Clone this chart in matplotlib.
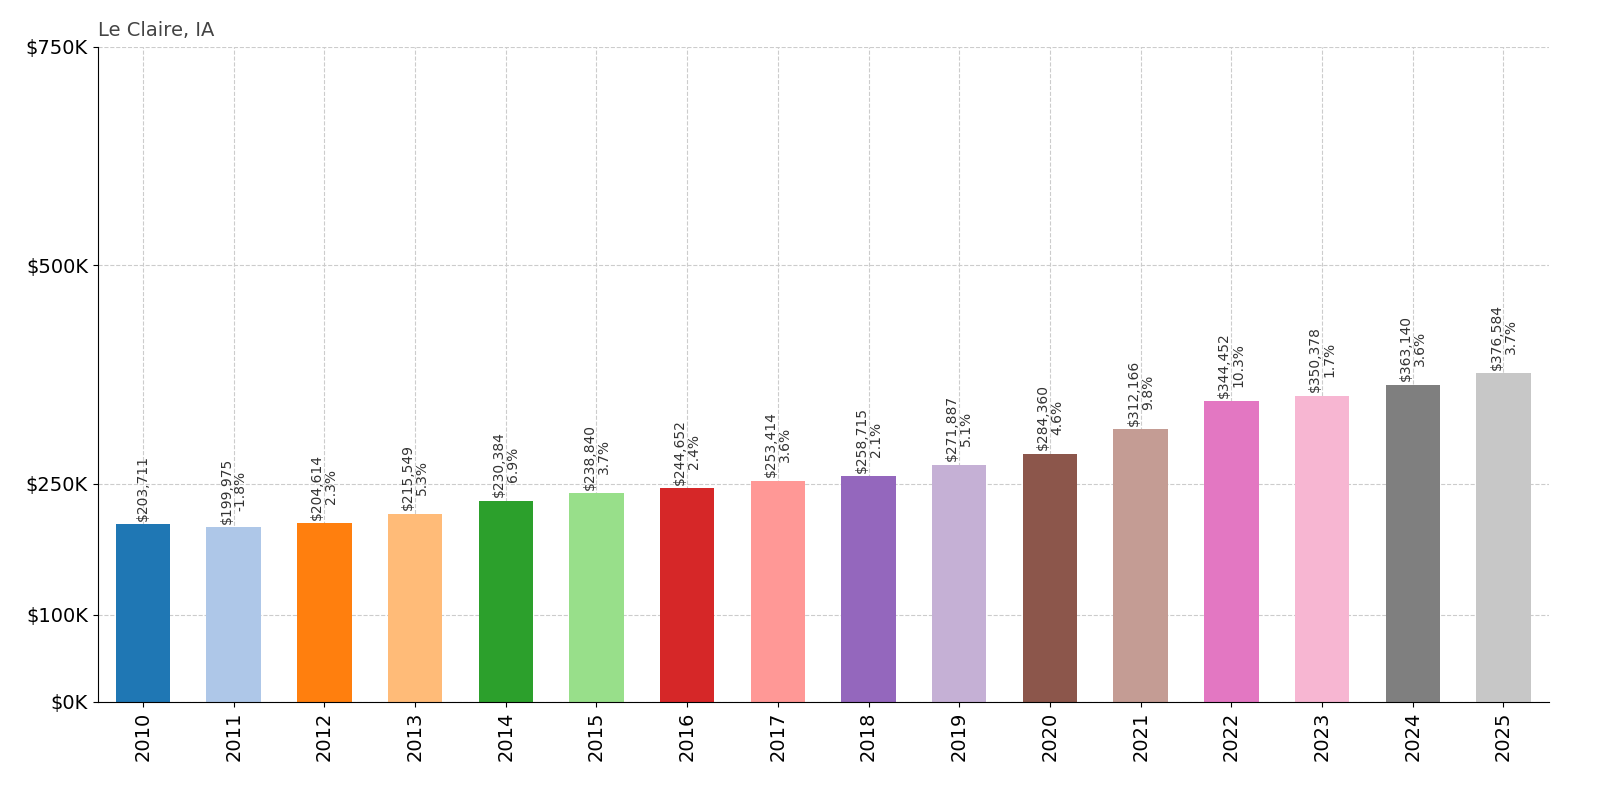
import matplotlib
matplotlib.use("Agg")
import matplotlib.pyplot as plt

years = ["2010","2011","2012","2013","2014","2015","2016","2017","2018","2019","2020","2021","2022","2023","2024","2025"]
values = [203711,199975,204614,215549,230384,238840,244652,253414,258715,271887,284360,312166,344452,350378,363140,376584]
changes = [None,"-1.8%","2.3%","5.3%","6.9%","3.7%","2.4%","3.6%","2.1%","5.1%","4.6%","9.8%","10.3%","1.7%","3.6%","3.7%"]
yticks = [0,100000,250000,500000,750000]
ytick_labels = ["$0K","$100K","$250K","$500K","$750K"]

colors = plt.get_cmap("tab20").colors

fig = plt.figure(figsize=(16,8), dpi=100)
ax = fig.add_axes([0.061, 0.1225, 0.907, 0.8188])
x = range(len(years))
ax.bar(x, values, width=0.6, color=[colors[i % 20] for i in x], zorder=2)
for i, v in enumerate(values):
    txt = f"${v:,}" if changes[i] is None else f"${v:,}\n{changes[i]}"
    ax.text(i, v + 4000, txt, rotation=90, ha="center", va="bottom", fontsize=10, color="#333333", linespacing=1.0)
ax.set_xticks(list(x))
ax.set_xticklabels(years, rotation=90, fontsize=14)
ax.set_yticks(yticks)
ax.set_yticklabels(ytick_labels, fontsize=14)
ax.set_ylim(0, 750000)
ax.set_xlim(-0.5, len(years) - 0.5)
ax.grid(True, linestyle="--", color="#cccccc", zorder=0)
ax.set_axisbelow(True)
for s in ["top","right"]:
    ax.spines[s].set_visible(False)
ax.text(0, 1.01, "Le Claire, IA", transform=ax.transAxes, fontsize=14, color="#444444", ha="left", va="bottom")
fig.savefig("out.png")
